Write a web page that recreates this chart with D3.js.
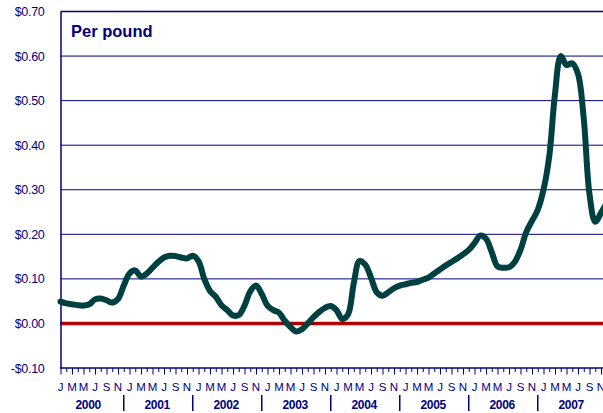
<!DOCTYPE html>
<html><head><meta charset="utf-8">
<script src="https://cdn.jsdelivr.net/npm/d3@7"></script>
<style>html,body{margin:0;padding:0;background:#fff;overflow:hidden}svg{display:block}</style>
</head><body>
<script>
const years = ["2000","2001","2002","2003","2004","2005","2006","2007"];
const monthLetters = ["J","F","M","A","M","J","J","A","S","O","N","D"];
const yTicks = [-0.1,0,0.1,0.2,0.3,0.4,0.5,0.6,0.7];
const prices = [
 0.049,0.045,0.043,0.041,0.040,0.043,0.054,0.056,0.052,0.047,0.055,0.085,
 0.112,0.119,0.105,0.112,0.125,0.138,0.148,0.152,0.151,0.148,0.146,0.152,
 0.140,0.100,0.073,0.060,0.041,0.030,0.018,0.019,0.040,0.072,0.085,0.066,
 0.040,0.030,0.024,0.006,-0.008,-0.018,-0.013,0.000,0.014,0.026,0.035,0.039,
 0.030,0.010,0.020,0.090,0.140,0.132,0.103,0.070,0.062,0.070,0.079,0.085,
 0.088,0.091,0.093,0.098,0.103,0.112,0.121,0.130,0.138,0.146,0.155,0.165,
 0.180,0.197,0.190,0.160,0.128,0.125,0.126,0.138,0.165,0.205,0.230,0.255,
 0.300,0.375,0.515,0.600,0.580,0.584,0.560,0.460,0.290,0.228,0.248,0.270
];
const W = 603, H = 413;
const navy = "#000080";
const svg = d3.select("body").append("svg").attr("width", W).attr("height", H);
const x = d3.scaleLinear().domain([0, 95]).range([60.5, 60.5 + 95*5.75]);
const y = d3.scaleLinear().domain([-0.1, 0.7]).range([368, 11.5]);
const left = 60.5, right = 640;

// gridlines
svg.append("g").selectAll("line").data(yTicks.filter(d => d > -0.05 && d !== 0 && d < 0.65))
  .join("line").attr("x1", left).attr("x2", right)
  .attr("y1", d => y(d)).attr("y2", d => y(d))
  .attr("stroke", navy).attr("stroke-width", 1);

// top border
svg.append("line").attr("x1", left).attr("x2", right).attr("y1", y(0.7)).attr("y2", y(0.7))
  .attr("stroke", navy).attr("stroke-width", 1.5);

// zero line
svg.append("line").attr("x1", left).attr("x2", right).attr("y1", y(0)).attr("y2", y(0))
  .attr("stroke", "#c00000").attr("stroke-width", 3.5);
svg.append("line").attr("x1", left).attr("x2", right).attr("y1", y(0)).attr("y2", y(0))
  .attr("stroke", "#400040").attr("stroke-width", 1);

// y axis
const yAxis = d3.axisLeft(y).tickValues(yTicks).tickSize(0).tickPadding(16)
  .tickFormat(d => (d < 0 ? "-$" : "$") + Math.abs(d).toFixed(2));
const gy = svg.append("g").attr("transform", `translate(${left},0)`).call(yAxis);
gy.select(".domain").attr("stroke", navy).attr("stroke-width", 1.5);
gy.selectAll("text").attr("fill", navy).attr("font-family", "Liberation Sans, Arial, sans-serif")
  .attr("font-size", 12.5).attr("letter-spacing", -0.3);

// x axis
const months = d3.range(0, 96);
const xAxis = d3.axisBottom(x).tickValues(months).tickSize(6).tickFormat("");
const gx = svg.append("g").attr("transform", `translate(0,${y(-0.1)})`).call(xAxis);
gx.select(".domain").remove();
gx.selectAll(".tick line").attr("stroke", navy).attr("stroke-width", 1)
  .attr("y2", d => d % 2 === 0 ? 6.5 : 4);
svg.append("line").attr("x1", left - 0.5).attr("x2", right).attr("y1", y(-0.1)).attr("y2", y(-0.1))
  .attr("stroke", navy).attr("stroke-width", 1.5);

// month labels
svg.append("g").selectAll("text").data(months.filter(d => d % 2 === 0))
  .join("text").attr("x", d => x(d)).attr("y", 391).attr("text-anchor", "middle")
  .attr("fill", navy).attr("font-family", "Liberation Sans, Arial, sans-serif").attr("font-size", 11.5)
  .text(d => monthLetters[d % 12]);

// year separators and labels
svg.append("g").selectAll("line").data(d3.range(1, years.length))
  .join("line").attr("x1", k => x(12*k - 1)).attr("x2", k => x(12*k - 1))
  .attr("y1", 395).attr("y2", 411).attr("stroke", navy).attr("stroke-width", 1.5);
svg.append("g").selectAll("text").data(years)
  .join("text").attr("x", (d, k) => (x(12*k - 1) + x(12*k + 11)) / 2 - 1).attr("y", 409)
  .attr("text-anchor", "middle").attr("fill", navy)
  .attr("font-family", "Liberation Sans, Arial, sans-serif").attr("font-size", 12).attr("font-weight", "bold")
  .attr("letter-spacing", -0.3)
  .text(d => d);

// line
const line = d3.line().x((d, i) => x(i)).y(d => y(d)).curve(d3.curveCatmullRom.alpha(0.5));
svg.append("path").datum(prices).attr("d", line).attr("fill", "none")
  .attr("stroke", "#004040").attr("stroke-width", 6).attr("stroke-linejoin", "round").attr("stroke-linecap", "round");

// title
svg.append("text").attr("x", 71).attr("y", 37).attr("fill", navy)
  .attr("font-family", "Liberation Sans, Arial, sans-serif").attr("font-size", 16.5).attr("font-weight", "bold")
  .text("Per pound");
</script>
</body></html>
